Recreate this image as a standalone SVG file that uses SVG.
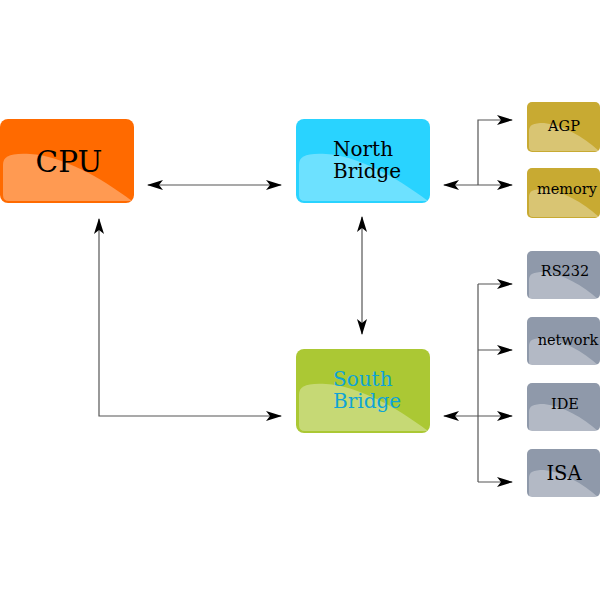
<svg xmlns="http://www.w3.org/2000/svg" xmlns:xlink="http://www.w3.org/1999/xlink" width="600" height="600" viewBox="0 0 600 600">
<defs>
<style>
.lbl{font-family:"DejaVu Serif",serif;fill:#000}
.big{font-size:20px}
.sm{font-size:14.5px}
.conn{fill:none;stroke:#555;stroke-width:1.2}
.gloss{fill:#fff;fill-opacity:0.32}
</style>
<path id="glossBig" d="M3,46 C3,37 10,34 30,35 C62,37 100,58 132,82 L9,82 Q3,82 3,76 Z"/>
<path id="glossSm" d="M2,29 C2,23 6,21 17,21 C36,23 55,34 72,49 L6,49 Q2,49 2,45 Z"/>
<marker id="ah" viewBox="0 0 16 10" refX="15" refY="5" markerWidth="16" markerHeight="10" markerUnits="userSpaceOnUse" orient="auto-start-reverse">
<path d="M0,0 L16,5 L0,10 L4,5 Z" fill="#000"/>
</marker>
</defs>
<g id="connectors">
<path class="conn" d="M148,185 H281" marker-start="url(#ah)" marker-end="url(#ah)"/>
<path class="conn" d="M362,217 V334" marker-start="url(#ah)" marker-end="url(#ah)"/>
<path class="conn" d="M99,219 V416 H281" marker-start="url(#ah)" marker-end="url(#ah)"/>
<path class="conn" d="M444,185 H512" marker-start="url(#ah)" marker-end="url(#ah)"/>
<path class="conn" d="M478,185 V120 H512" marker-end="url(#ah)"/>
<path class="conn" d="M444,416 H512" marker-start="url(#ah)" marker-end="url(#ah)"/>
<path class="conn" d="M478,284 V482"/>
<path class="conn" d="M478,284 H512" marker-end="url(#ah)"/>
<path class="conn" d="M478,350 H512" marker-end="url(#ah)"/>
<path class="conn" d="M478,482 H512" marker-end="url(#ah)"/>
</g>
<g id="cpu" transform="translate(0,119)">
<rect width="134" height="84" rx="8" fill="#ff6a00"/>
<use xlink:href="#glossBig" class="gloss"/>
<text class="lbl" x="69" y="53" font-size="29.5" text-anchor="middle">CPU</text>
</g>
<g id="northbridge" transform="translate(296,119)">
<rect width="134" height="84" rx="8" fill="#29d3ff"/>
<use xlink:href="#glossBig" class="gloss"/>
<text class="lbl big" x="37" y="37">North</text>
<text class="lbl big" x="37" y="59">Bridge</text>
</g>
<g id="southbridge" transform="translate(296,349)">
<rect width="134" height="84" rx="8" fill="#abc834"/>
<use xlink:href="#glossBig" class="gloss"/>
<text class="lbl big" x="37" y="37" style="fill:#0fa4d6">South</text>
<text class="lbl big" x="37" y="59" style="fill:#0fa4d6">Bridge</text>
</g>
<g id="agp" transform="translate(527,102)">
<rect width="73" height="50" rx="5" fill="#c8aa32"/>
<use xlink:href="#glossSm" class="gloss"/>
<text class="lbl sm" x="37" y="29" text-anchor="middle">AGP</text>
</g>
<g id="memory" transform="translate(527,168)">
<rect width="73" height="50" rx="5" fill="#c8aa32"/>
<use xlink:href="#glossSm" class="gloss"/>
<text class="lbl sm" x="40" y="26" text-anchor="middle">memory</text>
</g>
<g id="rs232" transform="translate(527,251)">
<rect width="73" height="48" rx="5" fill="#8f99aa"/>
<use xlink:href="#glossSm" class="gloss"/>
<text class="lbl sm" x="38" y="25" text-anchor="middle">RS232</text>
</g>
<g id="network" transform="translate(527,317)">
<rect width="73" height="48" rx="5" fill="#8f99aa"/>
<use xlink:href="#glossSm" class="gloss"/>
<text class="lbl sm" x="41" y="28" text-anchor="middle">network</text>
</g>
<g id="ide" transform="translate(527,383)">
<rect width="73" height="48" rx="5" fill="#8f99aa"/>
<use xlink:href="#glossSm" class="gloss"/>
<text class="lbl sm" x="38" y="26" text-anchor="middle">IDE</text>
</g>
<g id="isa" transform="translate(527,449)">
<rect width="73" height="48" rx="5" fill="#8f99aa"/>
<use xlink:href="#glossSm" class="gloss"/>
<text class="lbl" x="37" y="31" font-size="19.5" text-anchor="middle">ISA</text>
</g>
</svg>
